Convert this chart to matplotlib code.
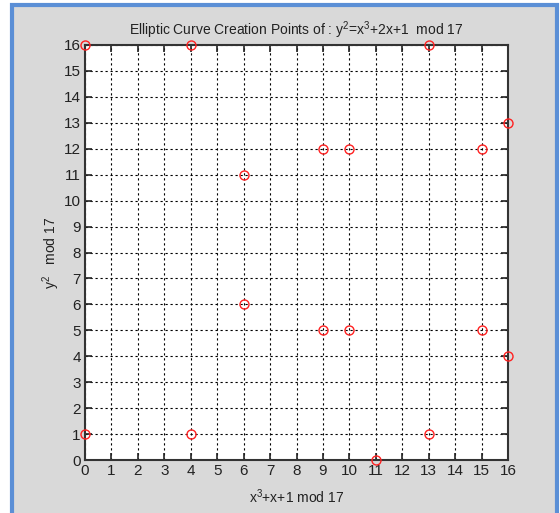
import matplotlib
matplotlib.use('Agg')
import matplotlib.pyplot as plt
from matplotlib.patches import Rectangle

plt.rcParams['font.family'] = ['Liberation Sans', 'DejaVu Sans']
plt.rcParams['mathtext.fontset'] = 'custom'
plt.rcParams['mathtext.rm'] = 'Liberation Sans'
plt.rcParams['mathtext.it'] = 'Liberation Sans'

# points on the curve
x_vals = [0, 4, 13, 16, 9, 10, 15, 6, 6, 9, 10, 15, 16, 0, 4, 13, 11]
y_vals = [16, 16, 16, 13, 12, 12, 12, 11, 6, 5, 5, 5, 4, 1, 1, 1, 0]
ticks = list(range(0, 17))

title = r'Elliptic Curve Creation Points of : $\mathregular{y^2}$=$\mathregular{x^3}$+2x+1  mod 17'
xlabel = r'$\mathregular{x^3}$+x+1 mod 17'
ylabel = r'$\mathregular{y^2}$   mod 17'

fig = plt.figure(figsize=(5.6, 5.13), dpi=100)
fig.patch.set_facecolor('white')

# grey panel with blue frame
fig.patches.append(Rectangle((12 / 560, -0.01), (557 - 12) / 560, (513 - 5) / 513 + 0.01,
                             transform=fig.transFigure, facecolor='#d9d9d9',
                             edgecolor='#5b8fd6', linewidth=3, zorder=-5))

ax = fig.add_axes([85 / 560, 1 - 460 / 513, (508 - 85) / 560, (460 - 45) / 513])
ax.set_facecolor('white')
ax.plot(x_vals, y_vals, 'o', markerfacecolor='none', markeredgecolor='#ff2020',
        markersize=6.5, markeredgewidth=1.0, clip_on=False, zorder=5)

ax.set_xlim(0, 16)
ax.set_ylim(0, 16)
ax.set_xticks(ticks)
ax.set_yticks(ticks)
ax.grid(True, color='black', linestyle=(0, (2, 2.5)), linewidth=0.8)
ax.tick_params(direction='in', length=5, width=1.2, top=True, right=True,
               labelsize=11, pad=3, colors='#222222')
for s in ax.spines.values():
    s.set_linewidth(1.5)
    s.set_color('#333333')

ax.set_title(title, fontsize=10, pad=7, color='#222222')
ax.set_xlabel(xlabel, fontsize=10, labelpad=7, color='#222222')
ax.set_ylabel(ylabel, fontsize=10, labelpad=1, color='#222222')

plt.savefig('out.png', dpi=100)
